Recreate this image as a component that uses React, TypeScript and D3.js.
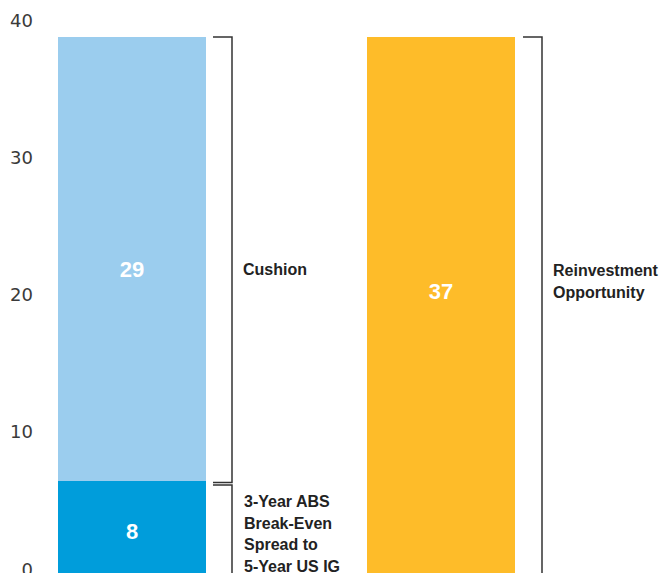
import React from "react";
import * as d3 from "d3";

// ---- data ----
const categories = ["ABS", "Reinvestment"];
const breakEven = [8, 0];
const cushion = [29, 0];
const reinvestment = [0, 37];
const tickValues = [0, 10, 20, 30, 40];
const segmentLabels = ["3-Year ABS|Break-Even|Spread to|5-Year US IG", "Cushion", "Reinvestment|Opportunity"];

const W = 666;
const H = 573;

export default function App() {
  // scale for bar geometry
  const yBar = d3.scaleLinear().domain([8, 37]).range([481, 37]);
  // scale for tick labels
  const yAxis = d3.scaleLinear().domain([0, 40]).range([569, 20.5]);
  const step = 309;
  const bw = 148;
  const xPos = (c: string) => 58 + categories.indexOf(c) * step;

  const colors = { breakEven: "#009DDB", cushion: "#9BCDEE", reinv: "#FEBC29" };
  const lineColor = "#333";
  const numFont = "'Liberation Sans', Arial, sans-serif";

  const stacks = categories.map((c, i) => {
    const segs: { y0: number; y1: number; color: string; value: number }[] = [];
    let acc = 0;
    if (breakEven[i] > 0) {
      segs.push({ y0: acc, y1: acc + breakEven[i], color: colors.breakEven, value: breakEven[i] });
      acc += breakEven[i];
    }
    if (cushion[i] > 0) {
      segs.push({ y0: acc, y1: acc + cushion[i], color: colors.cushion, value: cushion[i] });
      acc += cushion[i];
    }
    if (reinvestment[i] > 0) {
      segs.push({ y0: acc, y1: acc + reinvestment[i], color: colors.reinv, value: reinvestment[i] });
      acc += reinvestment[i];
    }
    return { c, segs };
  });

  const bottomPx = H + 40;
  const segTop = (v: number) => yBar(v);
  const segBottom = (v: number) => (v === 0 ? bottomPx : yBar(v));

  // label y-positions (px)
  const valueLabelY: Record<string, number> = { "8": 531, "29": 269, "37": 291 };

  const x1 = xPos(categories[0]);
  const x2 = xPos(categories[1]);
  const br1x = x1 + bw + 26;
  const br2x = x2 + bw + 27;

  const multi = (s: string, xx: number, yc: number, lh: number, key: string) => {
    const lines = s.split("|");
    const start = yc - ((lines.length - 1) * lh) / 2;
    return (
      <text key={key} x={xx} fontFamily={numFont} fontWeight="bold" fontSize={16} fill="#222" dominantBaseline="central">
        {lines.map((l, i) => (
          <tspan key={i} x={xx} y={start + i * lh}>{l}</tspan>
        ))}
      </text>
    );
  };

  return (
    <svg width={W} height={H} style={{ position: "absolute", left: 0, top: 0, background: "#fff" }}>
      {tickValues.map((t) => (
        <text key={t} x={33} y={yAxis(t)} textAnchor="end" dominantBaseline="central" fontFamily="'DejaVu Sans', sans-serif" fontSize={18} fill="#3a3a3a">
          {t}
        </text>
      ))}
      {stacks.map((s) =>
        s.segs.map((g, j) => (
          <rect key={s.c + j} x={xPos(s.c)} width={bw} y={segTop(g.y1)} height={segBottom(g.y0) - segTop(g.y1)} fill={g.color} />
        ))
      )}
      {stacks.map((s) =>
        s.segs.map((g, j) => (
          <text key={"l" + s.c + j} x={xPos(s.c) + bw / 2} y={valueLabelY[String(g.value)]} textAnchor="middle" dominantBaseline="central" fontFamily={numFont} fontWeight="bold" fontSize={22} fill="#fff">
            {g.value}
          </text>
        ))
      )}
      {/* brackets */}
      <path d={`M${br1x - 19},${yBar(37)} H${br1x} V${yBar(8) + 1.5} H${br1x - 19}`} fill="none" stroke={lineColor} strokeWidth={1.5} />
      <path d={`M${br1x - 19},${yBar(8) + 4} H${br1x} V${bottomPx}`} fill="none" stroke={lineColor} strokeWidth={1.5} />
      <path d={`M${br2x - 19},${yBar(37)} H${br2x} V${bottomPx}`} fill="none" stroke={lineColor} strokeWidth={1.5} />
      {multi(segmentLabels[1], 243, 269, 22, "cush")}
      {multi(segmentLabels[0], 244, 533.5, 21.7, "be")}
      {multi(segmentLabels[2], 553, 281, 22, "re")}
    </svg>
  );
}
